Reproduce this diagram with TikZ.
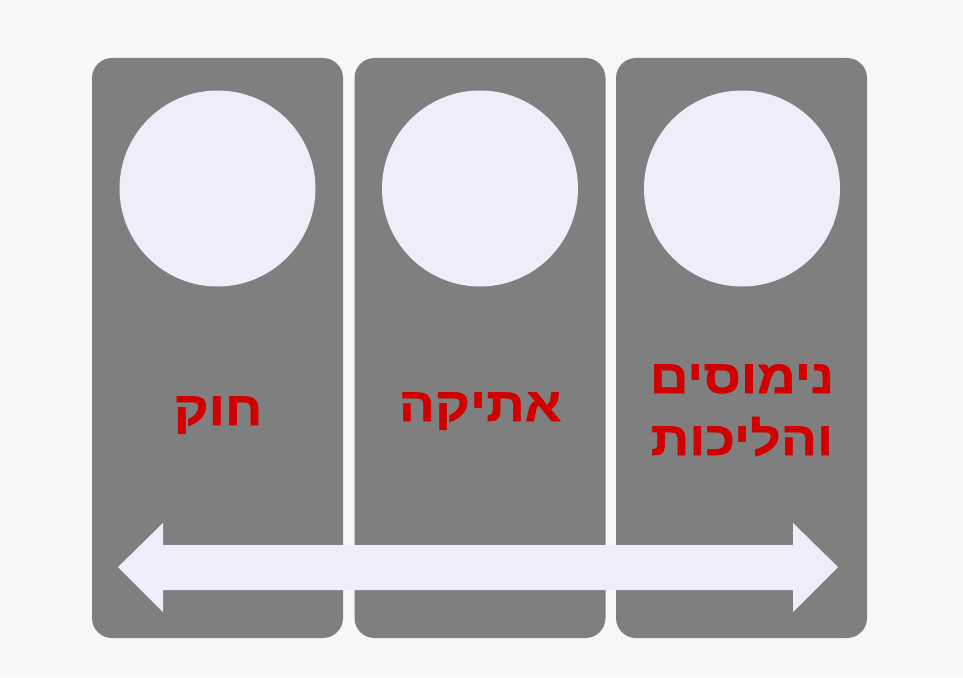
\documentclass[tikz,border=0pt]{standalone}
\usepackage{fontspec}
\TeXXeTstate=1
\newfontfamily\hebfont[Script=Hebrew,FakeStretch=1.14,FakeBold=1.2]{Liberation Sans Bold}
\definecolor{panelgray}{HTML}{7F7F7F}
\definecolor{paleblue}{HTML}{EEEEFA}
\definecolor{labelred}{HTML}{D00000}
\definecolor{bggray}{HTML}{F7F7F7}
\tikzset{
  panel/.style={fill=panelgray, draw=none, rounded corners=20pt, minimum width=251pt, minimum height=580pt, inner sep=0pt},
  disc/.style={circle, fill=paleblue, draw=none, minimum size=196pt, inner sep=0pt},
  label/.style={text=labelred, font=\hebfont\fontsize{47}{62}\selectfont, align=center, inner sep=0pt, anchor=base},
}
\begin{document}
\begin{tikzpicture}[x=1pt, y=-1pt]
\fill[bggray] (0,0) rectangle (963,677);
\useasboundingbox (0,0) rectangle (963,677);
\node[panel] (p1) at (217.5,348) {};
\node[panel] (p2) at (480,348) {};
\node[panel] (p3) at (741.5,348) {};
\node[disc] (c1) at (217.5,188.5) {};
\node[disc] (c2) at (480,188.5) {};
\node[disc] (c3) at (742,188.5) {};
\node[label] (t1) at (218,425) {\beginR חוק\endR};
\node[label] (t2) at (480,421) {\beginR אתיקה\endR};
\node[label] (t3) at (742,455) {\beginR נימוסים\endR\\\beginR והליכות\endR};
\fill[paleblue] (118,567) -- (163,523) -- (163,545) -- (793,545) -- (793,523)
  -- (838,567) -- (793,612) -- (793,590) -- (163,590) -- (163,612) -- cycle;
\end{tikzpicture}
\end{document}
